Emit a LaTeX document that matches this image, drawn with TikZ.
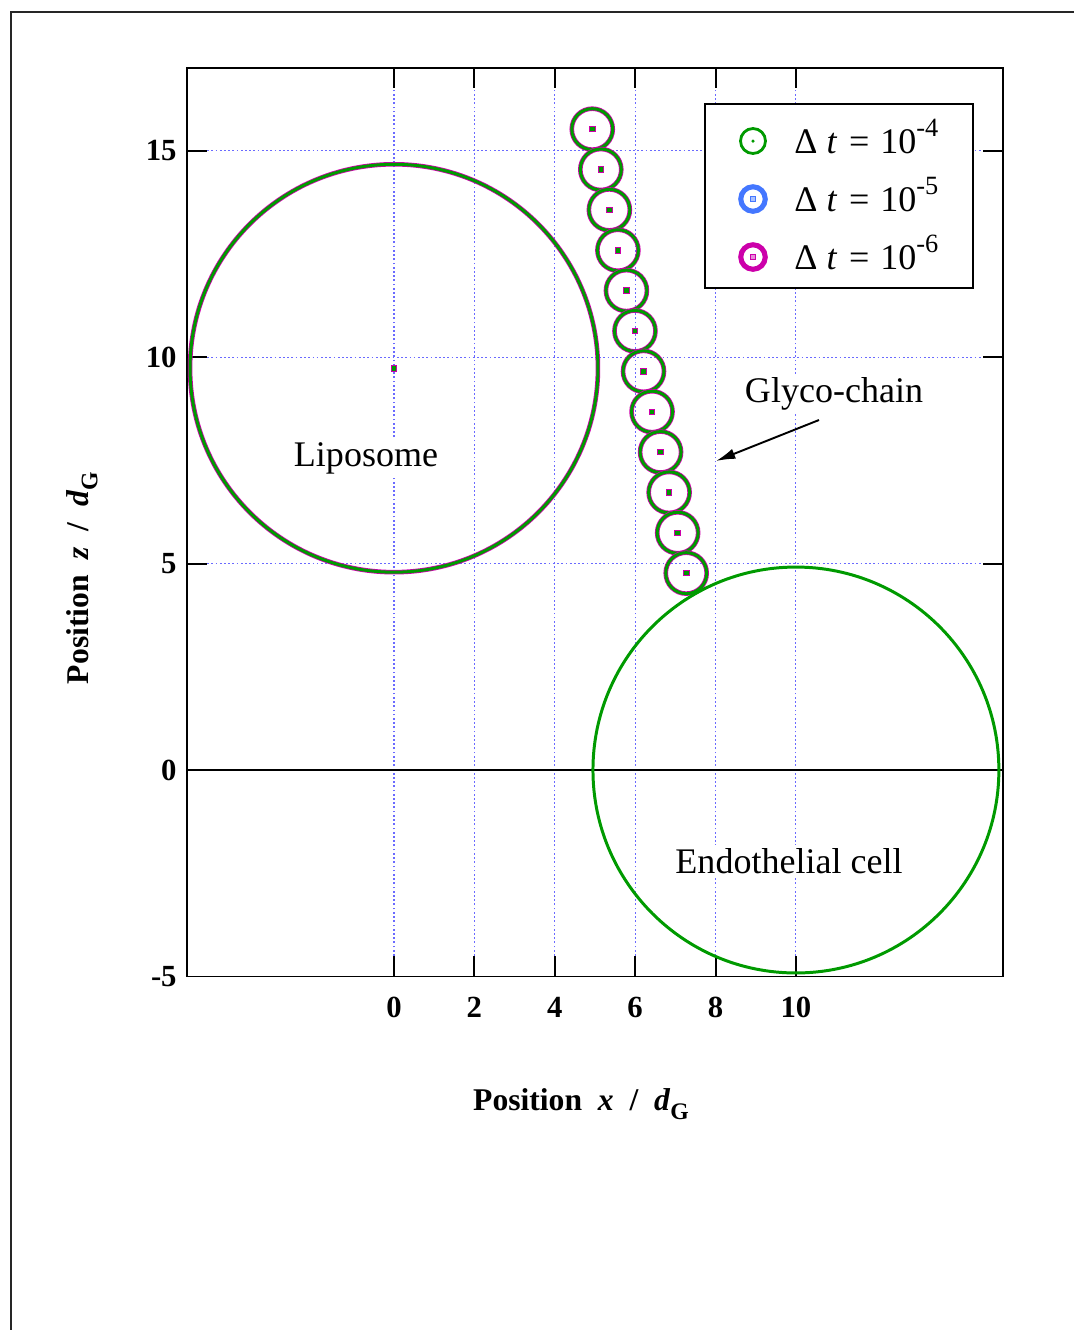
\documentclass[tikz,border=0pt]{standalone}
\usepackage{fontspec}
\setmainfont{Liberation Serif}
\usetikzlibrary{arrows.meta}
\definecolor{dtfour}{HTML}{009A00}
\definecolor{dtfive}{HTML}{4477FF}
\definecolor{dtsix}{HTML}{CC00AA}
\definecolor{gridcol}{HTML}{6A6AFF}
\newcommand{\steplabel}[1]{Δ \textit{t}\hspace{0.08em} = \hspace{0.05em}10\raisebox{0.45em}{\fontsize{15}{15}\selectfont #1}}
\newcommand{\dGsub}{\textit{d}\raisebox{-0.3em}{\fontsize{13.5}{13.5}\selectfont G}}

\begin{document}
\begin{tikzpicture}[
    x=0.02cm, y=-0.02cm,
    every node/.style={inner sep=0pt},
    plotframe/.style={draw, line width=1.1pt},
    gridline/.style={gridcol, line width=0.65pt, dash pattern=on 1pt off 1.4pt},
    ticklabel/.style={font=\fontsize{17.5}{20}\selectfont\bfseries},
    axislabel/.style={font=\fontsize{18}{20}\selectfont\bfseries},
    annot/.style={font=\fontsize{20.5}{24}\selectfont},
    arrow/.style={-{Latex[length=11pt,width=6pt]}, line width=1.1pt},
    cellline/.style={draw=dtfour, line width=1.7pt},
    magline/.style={draw=dtsix, line width=2.6pt},
    marker/.style={draw=dtsix, fill=dtfour, line width=0.5pt, minimum size=0.11cm},
]
\useasboundingbox (0,0) rectangle (1074,1330);

% ===== page frame =====
\draw[line width=1pt, black!85] (1074,12) -- (11,12) -- (11,1330);

% ===== plot in data units =====
\begin{scope}[shift={(394,770)}, x=0.804cm, y=0.826cm]
    % grid
    \foreach \xv in {0,2,...,10}
        \draw[gridline] (\xv,-4.5) -- (\xv,16.5);
    \foreach \yv in {5,10,15}
        \draw[gridline] (-4.65,\yv) -- (14.65,\yv);
    \draw[line width=1pt] (-5.149,0) -- (15.149,0);

    % frame and ticks
    \draw[plotframe] (-5.149,-5) rectangle (15.149,17);
    \foreach \xv in {0,2,...,10} {
        \draw[plotframe] (\xv,-5) -- ++(0,0.4cm);
        \draw[plotframe] (\xv,17) -- ++(0,-0.4cm);
        \node[ticklabel] (xl\xv) at (\xv,-5.74) {\xv};
    }
    \foreach \yv in {-5,0,...,15} {
        \draw[plotframe] (-5.149,\yv) -- ++(0.4cm,0);
        \draw[plotframe] (15.149,\yv) -- ++(-0.4cm,0);
        \node[ticklabel, anchor=east] (yl\yv) at (-5.4,\yv) {\yv};
    }

    % liposome
    \coordinate (lipocentre) at (0,9.73);
    \draw[magline] (lipocentre) circle[radius=4.08cm];
    \draw[cellline] (lipocentre) circle[radius=4.08cm];
    \node[marker] (lipodot) at (lipocentre) {};

    % glyco-chain beads
    \foreach \i in {0,...,11} {
        \coordinate (bead\i) at ({4.933+0.2125*\i},{15.52-0.9775*\i});
        \draw[magline] (bead\i) circle[radius=0.41cm];
        \draw[cellline] (bead\i) circle[radius=0.41cm];
        \node[marker] (beaddot\i) at (bead\i) {};
    }

    % endothelial cell
    \coordinate (cellcentre) at (10,0);
    \draw[cellline] (cellcentre) circle[radius=4.06cm];
\end{scope}

% ===== legend =====
\draw[plotframe, fill=white] (705,104) rectangle (973,288);
\coordinate (keyA) at (753,141);
\coordinate (keyB) at (753,199);
\coordinate (keyC) at (753,257);
\draw[dtfour, line width=1.6pt] (keyA) circle[radius=0.25cm];
\fill[dtfour] (keyA) circle[radius=0.035cm];
\draw[dtfive, line width=2.9pt] (keyB) circle[radius=0.245cm];
\node[draw=dtfive, fill=dtfive!45, line width=0.8pt, minimum size=0.11cm] (keyBdot) at (keyB) {};
\draw[dtsix, line width=2.9pt] (keyC) circle[radius=0.245cm];
\node[draw=dtsix, fill=dtsix!45, line width=0.8pt, minimum size=0.11cm] (keyCdot) at (keyC) {};
\node[annot, anchor=base west] (keyAtext) at (794,153) {\steplabel{-4}};
\node[annot, anchor=base west] (keyBtext) at (794,211) {\steplabel{-5}};
\node[annot, anchor=base west] (keyCtext) at (794,269) {\steplabel{-6}};

% ===== annotations =====
\node[annot, fill=white, inner sep=2pt] (liposome) at (366,458) {Liposome};
\node[annot, fill=white, inner sep=2pt] (endocell) at (789,861) {Endothelial cell};
\node[annot, fill=white, inner sep=2pt] (glyco) at (834,394) {Glyco-chain};
\coordinate (chaintail) at (819,420);
\coordinate (chaintip) at (716,461);
\draw[arrow] (chaintail) -- (chaintip);

% ===== axis labels =====
\node[axislabel, anchor=base] (xlabel) at (581,1110) {Position~~\textit{x}~~/~~\dGsub};
\node[axislabel, rotate=90, anchor=base] (zlabel) at (88,578) {Position~~\textit{z}~~/~~\dGsub};

\end{tikzpicture}
\end{document}
